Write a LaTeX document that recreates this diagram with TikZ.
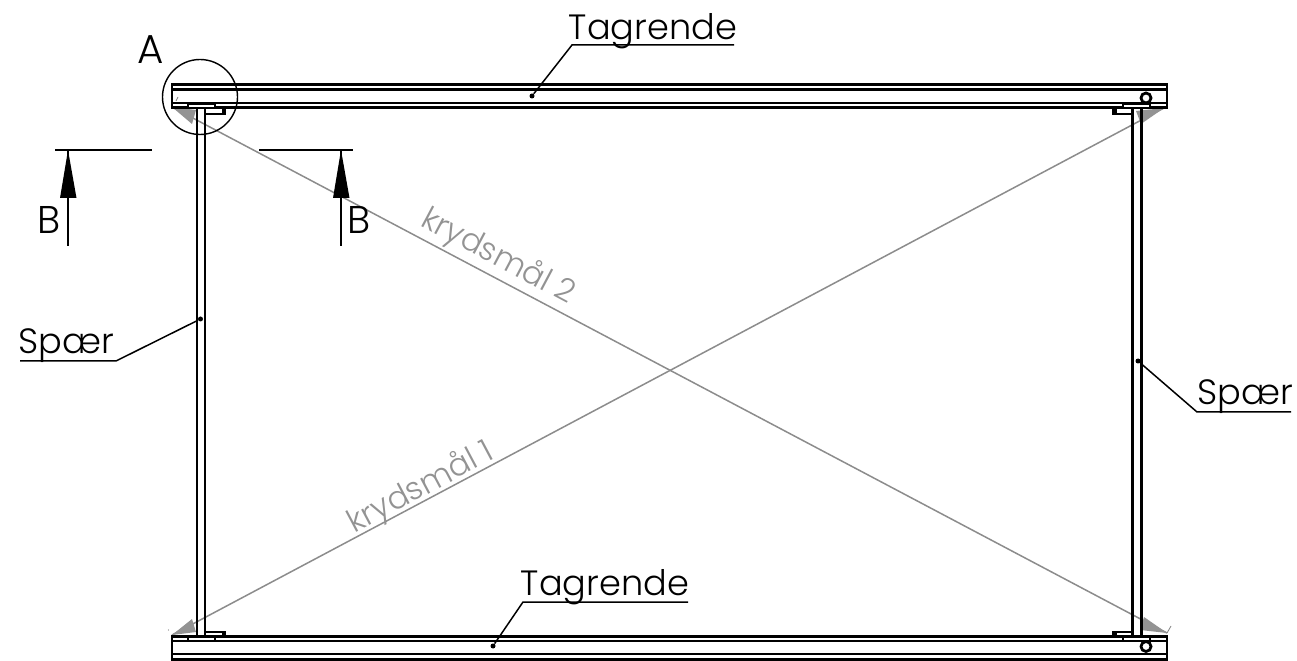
\documentclass[tikz,border=0pt]{standalone}
\usepackage{fontspec}
\setmainfont{Poppins}[UprightFont=* Light]
\tikzset{
  px/.style={x=0.02cm,y=-0.02cm},
  heavy/.style={line width=0.056cm,black},
  thin rail/.style={line width=0.04cm,black},
  leader/.style={line width=0.03cm,black},
  sect/.style={line width=0.03cm,black},
  cross/.style={line width=0.03cm,gray!90},
  crosstip/.style={fill=gray!85,draw=none},
  lbl/.style={font=\fontsize{20}{24}\selectfont,inner sep=0pt},
  crosslbl/.style={font=\fontsize{18}{22}\selectfont,inner sep=0pt,text=gray!85},
  dotmark/.style={circle,fill=black,inner sep=0pt,minimum size=0.1cm}
}
\begin{document}
\begin{tikzpicture}[px]
\useasboundingbox (0,0) rectangle (1297,661);
% diagonals
\coordinate (TL) at (172,107);
\coordinate (TR) at (1164,108);
\coordinate (BL) at (172,635);
\coordinate (BR) at (1167,633);
\draw[cross] (TL) -- (BR);
\draw[cross] (BL) -- (TR);
\fill[crosstip] (TL) -- (196,110) -- (192,124) -- cycle;
\fill[crosstip] (TR) -- (1136,111) -- (1141,124) -- cycle;
\fill[crosstip] (BL) -- (192,619) -- (196,632) -- cycle;
\fill[crosstip] (BR) -- (1144,617) -- (1140,630) -- cycle;
\draw[gray,line width=0.016cm] (1167,633) -- (1171,626);
\draw[gray,line width=0.016cm] (176,101) -- (178,97);
\fill[gray] (168.5,630) circle (0.7);
% top rail
\draw[heavy] (172,84.5) rectangle (1167,107.5);
\draw[heavy] (172,89.5) -- (1167,89.5);
\draw[thin rail] (172,103.5) -- (1167,103.5);
% bottom rail
\draw[heavy] (172,636.5) rectangle (1167,659.5);
\draw[thin rail] (172,641) -- (1167,641);
\draw[thin rail] (172,654) -- (1167,654);
% left spar
\draw[heavy] (197,108) -- (197,636);
\draw[heavy] (205,108) -- (205,636);
% right spar
\draw[heavy] (1132.5,108) -- (1132.5,636);
\draw[heavy] (1141.5,108) -- (1141.5,636);
% plates
\draw[thin rail,fill=white] (187.5,104.5) rectangle (215,108);
\draw[thin rail,fill=white] (1123,104.5) rectangle (1150,108);
\draw[thin rail,fill=white] (187.5,636.5) rectangle (215,640.5);
\draw[thin rail,fill=white] (1123,636.5) rectangle (1150,640.5);
% brackets
\draw[thin rail] (205,114.5) -- (225,114.5) -- (225,108);
\fill (221.5,109) rectangle (226,114);
\draw[thin rail] (1132,114.5) -- (1112.5,114.5) -- (1112.5,108);
\fill (1112,109) rectangle (1116.5,114);
\draw[thin rail] (205,632) -- (225,632) -- (225,636);
\fill (221.5,630.5) rectangle (226,636);
\draw[thin rail] (1132,632) -- (1112.5,632) -- (1112.5,636);
\fill (1112,630.5) rectangle (1116.5,636);
% rollers
\draw[heavy,fill=white] (1146,98) circle (5);
\draw[heavy,fill=white] (1146,646.5) circle (5);
% detail circle
\draw[line width=0.028cm] (200,97) circle (37.5);
\node[lbl,font=\fontsize{23}{26}\selectfont] (labelA) at (150.5,50) {A};
% section B
\coordinate (sL1) at (55,150); \coordinate (sL2) at (152,150);
\coordinate (sL3) at (68,150); \coordinate (sL4) at (68,246);
\draw[sect] (sL1) -- (sL2);
\draw[sect] (sL3) -- (sL4);
\fill (68,150) -- (76.5,198) -- (60,198) -- cycle;
\coordinate (sR1) at (259,150); \coordinate (sR2) at (353,150);
\coordinate (sR3) at (341,150); \coordinate (sR4) at (341,246);
\draw[sect] (sR1) -- (sR2);
\draw[sect] (sR3) -- (sR4);
\fill (341,150) -- (349.5,198) -- (333,198) -- cycle;
\node[lbl,font=\fontsize{22}{26}\selectfont] (labelB1) at (49.5,220) {B};
\node[lbl,font=\fontsize{22}{26}\selectfont] (labelB2) at (359.5,220) {B};
% labels with leaders
\node[lbl] (tag1) at (653,31) {Tagrende};
\coordinate (tag1a) at (572,45); \coordinate (tag1b) at (734,45);
\node[dotmark] (tag1d) at (532,96) {};
\draw[leader] (tag1b) -- (tag1a) -- (tag1d);
\node[lbl] (tag2) at (605,587) {Tagrende};
\coordinate (tag2a) at (523,602); \coordinate (tag2b) at (688,602);
\node[dotmark] (tag2d) at (493,646) {};
\draw[leader] (tag2b) -- (tag2a) -- (tag2d);
\node[lbl] (sp1) at (66,346) {Spær};
\coordinate (sp1a) at (20,361); \coordinate (sp1b) at (116,361);
\node[dotmark] (sp1d) at (200.5,319) {};
\draw[leader] (sp1a) -- (sp1b) -- (sp1d);
\node[lbl] (sp2) at (1245.5,397) {Spær};
\coordinate (sp2a) at (1197,412); \coordinate (sp2b) at (1291,412);
\node[dotmark] (sp2d) at (1138,361) {};
\draw[leader] (sp2b) -- (sp2a) -- (sp2d);
% cross labels
\node[crosslbl,rotate=-28] (k2) at (498,257) {krydsmål 2};
\node[crosslbl,rotate=28] (k1) at (421,488) {krydsmål 1};
\end{tikzpicture}
\end{document}
